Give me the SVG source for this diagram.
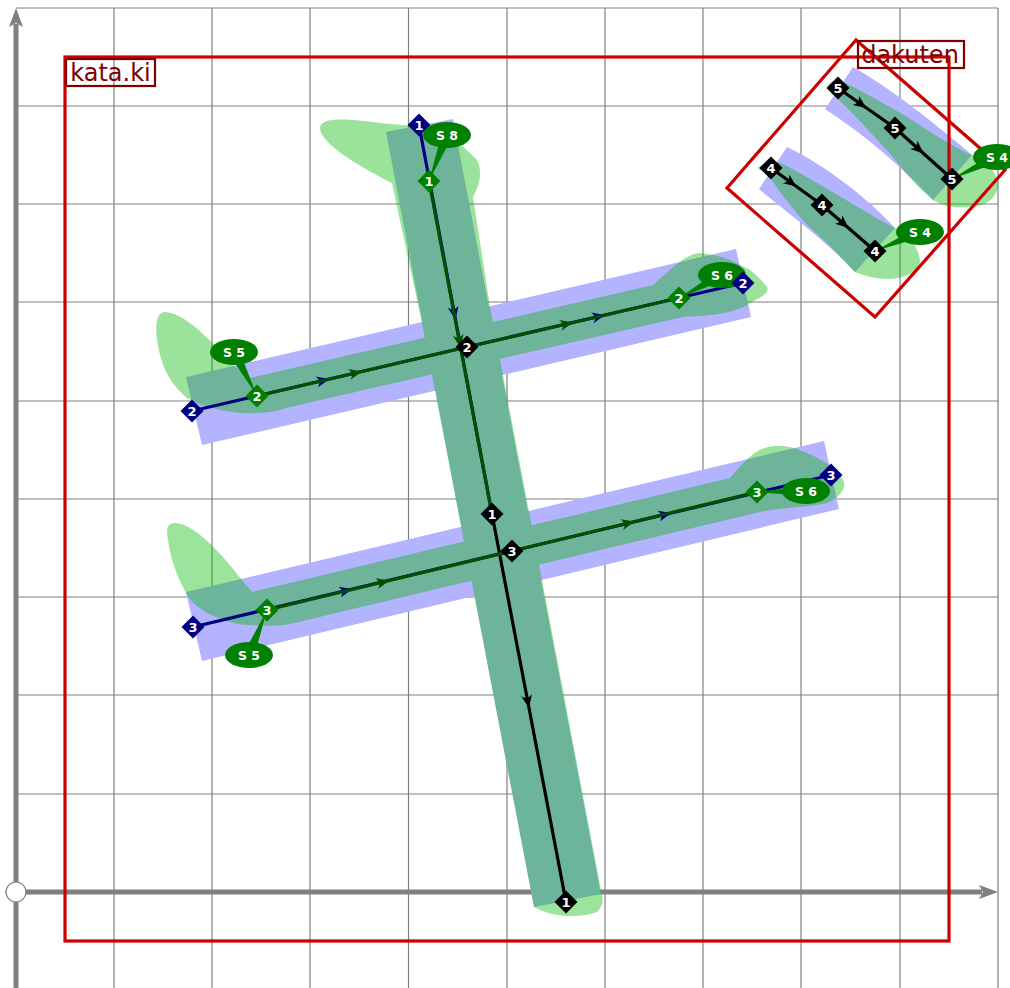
<svg xmlns="http://www.w3.org/2000/svg" width="1010" height="988" viewBox="0 0 1010 988">
<style>
.grid{stroke:#808080;stroke-width:1.2;fill:none}
.axis{stroke:#808080;stroke-width:5;fill:none}
.ah{fill:#808080}
.band{fill:#b3b3ff}
.blob{fill:#00b700}
.frame{fill:none;stroke:#cc0000;stroke-width:3.2}
.lbox{fill:none;stroke:#800000;stroke-width:2.2}
.ltxt{font:24px "DejaVu Sans",sans-serif;fill:#800000;text-anchor:middle}
.c{fill:none;stroke-width:3.2;stroke-linejoin:round}
.navy{stroke:#000080;marker-mid:url(#an)}
.dgr{stroke:#005000;marker-mid:url(#ag)}
.blk{stroke:#000;marker-mid:url(#ab)}
.dn{fill:#000080}.dg{fill:#008000}.db{fill:#000}
.n{font:bold 13px "DejaVu Sans",sans-serif;fill:#fff;text-anchor:middle}
.s{font:bold 12.500px "DejaVu Sans",sans-serif;fill:#fff;text-anchor:middle}
</style>
<defs>
<path id="d" d="M0,-11.500L11.500,0L0,11.500L-11.500,0Z"/>
<marker id="an" markerUnits="userSpaceOnUse" markerWidth="20" markerHeight="16" refX="16" refY="8" orient="auto"><path d="M16,8L3,2.500Q8,8 3,13.500Z" fill="#000080"/></marker>
<marker id="ag" markerUnits="userSpaceOnUse" markerWidth="20" markerHeight="16" refX="16" refY="8" orient="auto"><path d="M16,8L3,2.500Q8,8 3,13.500Z" fill="#005000"/></marker>
<marker id="ab" markerUnits="userSpaceOnUse" markerWidth="20" markerHeight="16" refX="16" refY="8" orient="auto"><path d="M16,8L3,2.500Q8,8 3,13.500Z" fill="#000"/></marker>
</defs>
<rect width="1010" height="988" fill="#fff"/>
<g id="grid">
<path class="grid" d="M114,8V988M212,8V988M310,8V988M408.500,8V988M507,8V988M605,8V988M703,8V988M801,8V988M900,8V988M998,8V988"/>
<path class="grid" d="M16,8H998M16,106H998M16,204H998M16,302H998M16,401H998M16,499H998M16,597H998M16,695H998M16,794H998"/>
</g>
<g id="axes">
<path class="axis" d="M16,988V24"/>
<path class="ah" d="M16,8L23,27L16,23L9,27Z"/>
<path class="axis" d="M16,892H982"/>
<path class="ah" d="M998,892L979,899L983,892L979,885Z"/>
<circle cx="16" cy="892" r="10" fill="#fff" stroke="#808080" stroke-width="1.2"/>
</g>
<g id="bands">
<polygon class="band" points="186,377 736,249 751,317 202,445"/>
<polygon class="band" points="186,592 824,441 839,509 202,661"/>
<polygon class="band" points="386,132 453,119 601,894 534,907"/>
<path class="band" d="M853,67C885,85 925,115 972,155L933,200C900,165 865,135 825,109Z"/>
<path class="band" d="M787,147C815,160 860,190 895,228L855,272C825,240 790,215 759,189Z"/>
</g>
<g id="blobs" opacity=".39">
<path class="blob" d="M320,128C320,117 345,118 380,123L423,127C445,132 462,144 477,160C482,170 481,182 473,197L490,307L601,890C604,900 603,906 597,912C580,918 553,918 534,907L422,323L392,183C370,172 320,145 320,128Z"/>
<path class="blob" d="M165,312C155,312 155,330 158,345C162,370 172,385 187,398C205,408 235,415 257,413C270,413 280,410 290,407L683,317C700,316 735,315 750,303C762,297 770,292 767,287C762,280 755,274 750,270C735,262 725,256 700,253C685,254 670,270 653,285L250,378L233,365C215,345 185,312 165,312Z"/>
<path class="blob" d="M175,523C165,523 167,533 168,540C170,558 178,578 186,593C195,612 230,625 250,625C270,626 280,626 290,624L760,512C780,508 810,507 827,503C838,499 848,488 843,480C838,470 825,460 800,450C790,446 775,444 765,448C752,452 742,464 730,478L252,592L242,580C225,558 195,523 175,523Z"/>
<path class="blob" d="M827,87C830,82 835,79 841,81C860,90 885,104 907,117C925,128 950,146 972,155C990,162 998,175 998,186C997,198 985,207 970,207C955,208 945,207 933,200C915,185 905,172 893,157C880,143 860,120 837,98C832,94 828,91 827,87Z"/>
<path class="blob" d="M758,168C760,164 770,160 778,162C790,167 805,176 817,183C835,193 870,215 895,228C910,235 920,250 920,262C918,272 905,278 890,279C875,279 865,276 855,272C845,262 837,253 827,243C815,232 810,228 800,217C790,205 778,190 767,173C763,172 760,171 758,168Z"/>
</g>
<g id="frames">
<rect class="frame" x="65" y="57" width="884" height="884"/>
<polygon class="frame" points="856,40 727,188 875,317 1005,170"/>
<rect class="lbox" x="66" y="59" width="89" height="27"/>
<text class="ltxt" x="110.500" y="81">kata.ki</text>
<rect class="lbox" x="858" y="41" width="106" height="27"/>
<text class="ltxt" x="910" y="63">dakuten</text>
</g>
<g id="connectors">
<path class="c navy" d="M419,125L455.500,319.500L492,514"/>
<path class="c navy" d="M192,411L329.500,379L467,347"/>
<path class="c navy" d="M467,347L605,315L743,283"/>
<path class="c navy" d="M193,627L352.500,589L512,551"/>
<path class="c navy" d="M512,551L671.500,513L831,475"/>
<path class="c blk" d="M492,514L529,708L566,902"/>
<path class="c dgr" d="M429,181L460.500,347.500L492,514"/>
<path class="c dgr" d="M257,396L362,371.500L467,347"/>
<path class="c dgr" d="M467,347L573,322.500L679,298"/>
<path class="c dgr" d="M267,610L389.500,580.500L512,551"/>
<path class="c dgr" d="M512,551L634.500,521.500L757,492"/>
<path class="c blk" d="M838,88L866.500,108L895,128"/>
<path class="c blk" d="M895,128L923.500,153.500L952,179"/>
<path class="c blk" d="M771,168L796.500,186.500L822,205"/>
<path class="c blk" d="M822,205L848.500,228L875,251"/>
</g>
<g id="node-n1t"><use href="#d" x="419" y="125" class="dn"/><text class="n" x="419" y="130">1</text></g>
<g id="node-s8"><polygon class="dg" points="452.100,137 441.900,133 429,181"/><ellipse class="dg" cx="447" cy="135" rx="24" ry="13"/><text class="s" x="447" y="139.500">S 8</text></g>
<g id="node-g1"><use href="#d" x="429" y="181" class="dg"/><text class="n" x="429" y="186">1</text></g>
<g id="node-b2"><use href="#d" x="467" y="347" class="db"/><text class="n" x="467" y="352">2</text></g>
<g id="node-b1m"><use href="#d" x="492" y="514" class="db"/><text class="n" x="492" y="519">1</text></g>
<g id="node-b3"><use href="#d" x="512" y="551" class="db"/><text class="n" x="512" y="556">3</text></g>
<g id="node-b1e"><use href="#d" x="566" y="902" class="db"/><text class="n" x="566" y="907">1</text></g>
<g id="node-n2l"><use href="#d" x="192" y="411" class="dn"/><text class="n" x="192" y="416">2</text></g>
<g id="node-s5a"><polygon class="dg" points="238.900,349.400 229.100,354.600 257,396"/><ellipse class="dg" cx="234" cy="352" rx="24" ry="13"/><text class="s" x="234" y="356.500">S 5</text></g>
<g id="node-g2l"><use href="#d" x="257" y="396" class="dg"/><text class="n" x="257" y="401">2</text></g>
<g id="node-s6a"><polygon class="dg" points="724.600,279.900 719.400,270.100 679,298"/><ellipse class="dg" cx="722" cy="275" rx="24" ry="13"/><text class="s" x="722" y="279.500">S 6</text></g>
<g id="node-g2r"><use href="#d" x="679" y="298" class="dg"/><text class="n" x="679" y="303">2</text></g>
<g id="node-n2r"><use href="#d" x="743" y="283" class="dn"/><text class="n" x="743" y="288">2</text></g>
<g id="node-n3l"><use href="#d" x="193" y="627" class="dn"/><text class="n" x="193" y="632">3</text></g>
<g id="node-s5b"><polygon class="dg" points="254.100,657 243.900,653 267,610"/><ellipse class="dg" cx="249" cy="655" rx="24" ry="13"/><text class="s" x="249" y="659.500">S 5</text></g>
<g id="node-g3l"><use href="#d" x="267" y="610" class="dg"/><text class="n" x="267" y="615">3</text></g>
<g id="node-s6b"><polygon class="dg" points="806,486 806,496 757,492"/><ellipse class="dg" cx="806" cy="491" rx="24" ry="13"/><text class="s" x="806" y="495.500">S 6</text></g>
<g id="node-g3r"><use href="#d" x="757" y="492" class="dg"/><text class="n" x="757" y="497">3</text></g>
<g id="node-n3r"><use href="#d" x="831" y="475" class="dn"/><text class="n" x="831" y="480">3</text></g>
<g id="node-k1"><use href="#d" x="838" y="88" class="db"/><text class="n" x="838" y="93">5</text></g>
<g id="node-k2"><use href="#d" x="895" y="128" class="db"/><text class="n" x="895" y="133">5</text></g>
<g id="node-s4b"><polygon class="dg" points="999.400,161.900 994.600,152.100 952,179"/><ellipse class="dg" cx="997" cy="157" rx="24" ry="13"/><text class="s" x="997" y="161.500">S 4</text></g>
<g id="node-k3"><use href="#d" x="952" y="179" class="db"/><text class="n" x="952" y="184">5</text></g>
<g id="node-j1"><use href="#d" x="771" y="168" class="db"/><text class="n" x="771" y="173">4</text></g>
<g id="node-j2"><use href="#d" x="822" y="205" class="db"/><text class="n" x="822" y="210">4</text></g>
<g id="node-s4a"><polygon class="dg" points="922.100,237.100 917.900,226.900 875,251"/><ellipse class="dg" cx="920" cy="232" rx="24" ry="13"/><text class="s" x="920" y="236.500">S 4</text></g>
<g id="node-j3"><use href="#d" x="875" y="251" class="db"/><text class="n" x="875" y="256">4</text></g>
</svg>
